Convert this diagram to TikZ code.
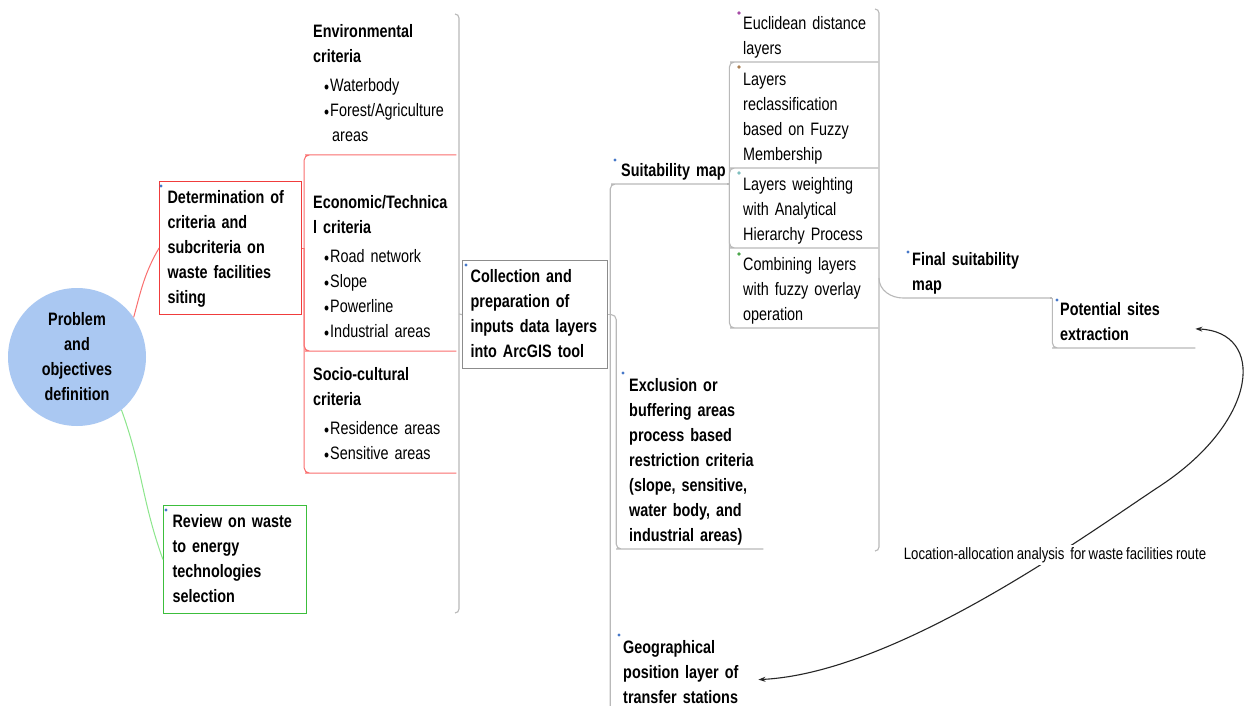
\documentclass[tikz,border=0pt]{standalone}
\usepackage{fontspec}
\setmainfont{Liberation Sans}[FakeStretch=0.8,WordSpace=0.8]
\usetikzlibrary{arrows.meta,calc}
\setlength{\parindent}{0pt}
\hyphenpenalty=10000
\exhyphenpenalty=10000

\definecolor{probblue}{RGB}{170,200,242}
\definecolor{cRedBord}{RGB}{240,60,60}
\definecolor{cRedLine}{RGB}{250,110,110}
\definecolor{cGreenBord}{RGB}{60,190,60}
\definecolor{cGreenLine}{RGB}{140,230,140}
\definecolor{cGrayBord}{RGB}{140,140,140}
\definecolor{cGrayLine}{RGB}{185,185,185}
\definecolor{tagblue}{RGB}{70,120,200}

\newcommand{\tfont}{\fontsize{18}{25}\selectfont}
\newcommand{\lfont}{\fontsize{16.5}{20}\selectfont}
\newcommand{\bitem}{\hspace*{11pt}\raisebox{-2pt}{\textbullet}\kern1pt}

\tikzset{
  topic/.style={anchor=south west, align=left, inner ysep=0pt, font=\tfont,
    execute at begin node=\strut, execute at end node=\strut},
  crit/.style={topic, inner xsep=3pt, inner ysep=6pt, text width=140pt},
  subtopic/.style={topic, inner xsep=8pt, text width=127pt},
  boxnode/.style={anchor=north west, align=left, inner ysep=4pt, text width=125pt,
    font=\tfont\bfseries, line width=1.2pt,
    execute at begin node=\strut, execute at end node=\strut},
  redline/.style={draw=cRedLine, line width=1pt},
  greenline/.style={draw=cGreenLine, line width=1pt},
  grayline/.style={draw=cGrayLine, line width=1.1pt},
  arrowline/.style={draw=black!85, line width=1.1pt,
    {Stealth[length=7pt,width=5pt]}-{Stealth[length=7pt,width=5pt]}}
}

\begin{document}
\begin{tikzpicture}[x=1pt,y=-1pt]
  \path[use as bounding box, fill=white] (0,0) rectangle (1253,706);

  %nodi
  \node[circle, fill=probblue, minimum size=138pt, inner sep=0pt, align=center,
    font=\tfont\bfseries] (prob) at (77,357) {Problem\\and\\objectives\\definition};
  \node[boxnode, draw=cRedBord, inner xsep=8pt, text width=126pt] (det) at (159,181)
    {Determination of\\criteria and\\subcriteria on\\waste facilities\\siting};
  \node[boxnode, draw=cGreenBord, inner xsep=9pt] (rev) at (163,505)
    {Review on waste\\to energy\\technologies\\selection};
  \node[boxnode, draw=cGrayBord, inner xsep=8pt, text width=129pt] (coll) at (462,260)
    {Collection and\\preparation of\\inputs data~layers\\into ArcGIS tool};

  \node[crit] (env) at (310,155) {{\bfseries Environmental\\criteria}\\[4pt]
    \bitem Waterbody\\ \bitem Forest/Agriculture\\ \hspace*{19pt}areas};
  \node[crit] (econ) at (310,351) {{\bfseries Economic/Technica\\l criteria}\\[4pt]
    \bitem Road network\\ \bitem Slope\\ \bitem Powerline\\ \bitem Industrial areas};
  \node[crit] (socio) at (310,473) {{\bfseries Socio-cultural\\criteria}\\[4pt]
    \bitem Residence areas\\ \bitem Sensitive areas};

  \node[topic, inner xsep=5pt, text width=101pt, font=\tfont\bfseries] (suit) at (616,184)
    {Suitability~map};
  \node[topic, inner xsep=8pt, text width=126pt, font=\tfont\bfseries] (excl) at (621,549)
    {Exclusion or\\buffering areas\\process based\\restriction criteria\\(slope, sensitive,\\water body, and\\industrial areas)};
  \node[topic, inner xsep=9pt, text width=126pt, font=\tfont\bfseries] (geo) at (614,711)
    {Geographical\\position layer of\\transfer stations};

  \node[subtopic] (eucl) at (735,62) {Euclidean distance\\layers};
  \node[subtopic] (recl) at (735,168) {Layers\\reclassification\\based on Fuzzy\\Membership};
  \node[subtopic] (wgt) at (735,248) {Layers weighting\\with Analytical\\Hierarchy Process};
  \node[subtopic] (comb) at (735,328) {Combining layers\\with fuzzy overlay\\operation};

  \node[topic, inner xsep=9pt, text width=129pt, font=\tfont\bfseries] (final) at (903,298)
    {Final suitability\\map};
  \node[topic, inner xsep=3pt, text width=132pt, font=\tfont\bfseries] (pot) at (1057,348)
    {Potential sites\\extraction};

  %collegamenti
  \draw[redline] (prob.35) to[out=75,in=240] (det.west);
  \draw[greenline] (prob.-50) to[out=-70,in=110] (rev.west);

  \draw[redline] (det.east) -- ++(2,0) coordinate (dj);
  \draw[redline, rounded corners=5pt] (dj) |- (env.south west) -- (env.south east);
  \draw[redline, rounded corners=5pt] (dj) |- (econ.south west) -- (econ.south east);
  \draw[redline, rounded corners=5pt] (dj) |- (socio.south west) -- (socio.south east);

  \coordinate (lbTop) at (455,14);
  \coordinate (lbMid) at (459,314);
  \coordinate (lbBot) at (455,613);
  \draw[grayline, rounded corners=4pt] (lbTop) -| (lbMid) |- (lbBot);
  \draw[grayline] (lbMid) -- (coll.west);

  \draw[grayline] (coll.east) -- ++(2,0) coordinate (cj);
  \draw[grayline, rounded corners=5pt] (cj) |- (suit.south west) -- (suit.south east);
  \draw[grayline, rounded corners=5pt] (cj) -- ++(6,0) |- (excl.south west) -- (excl.south east);
  \draw[grayline, rounded corners=5pt] (cj) |- (geo.south west);

  \draw[grayline] (suit.south east) -- ++(2,0) coordinate (sj);
  \foreach \n in {eucl,recl,wgt,comb}
    \draw[grayline, rounded corners=5pt] (sj) |- (\n.south west) -- (\n.south east);

  \coordinate (rbTop) at (875,9);
  \coordinate (rbMid) at (879,278);
  \coordinate (rbBot) at (875,551);
  \draw[grayline, rounded corners=4pt] (rbTop) -| (rbMid) |- (rbBot);
  \draw[grayline] (rbMid) to[out=-90,in=180] (final.south west) -- (final.south east);
  \draw[grayline] (final.south east) -- ++(2,0) coordinate (fj);
  \draw[grayline, rounded corners=5pt] (fj) |- (pot.south west) -- (pot.south east);

  %freccia
  \coordinate (abend) at (1160,486);
  \draw[arrowline] (pot.-5) .. controls +(70,3) and +(100,-66) .. (abend)
    .. controls +(-70,46) and +(140,-7) .. (geo.-5);
  \node[fill=white, inner sep=2pt, font=\lfont] (lalab) at (1055,555)
    {Location-allocation analysis~ for waste facilities route};

  %marcatori
  \foreach \x/\y in {161/186,166/510,466/265,615/160,623/373,619/635,908/252,1057/300}
    \fill[tagblue] (\x,\y) circle (1.6);
  \fill[violet!70] (739,13) circle (1.8);
  \fill[brown!70!gray] (739,67) circle (1.8);
  \fill[teal!50] (739,173) circle (1.8);
  \fill[green!50!black!70] (739,254) circle (1.8);
\end{tikzpicture}
\end{document}
